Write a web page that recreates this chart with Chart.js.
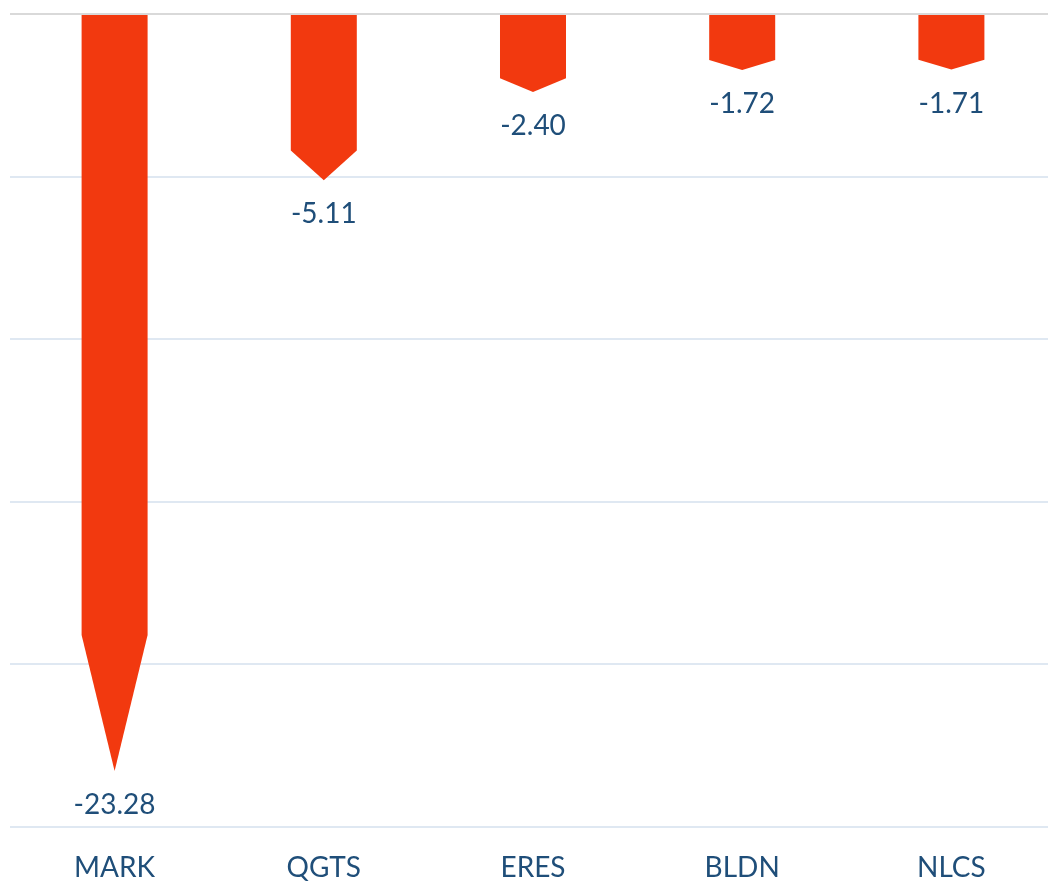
<!DOCTYPE html>
<html>
<head>
<meta charset="utf-8">
<script src="https://cdn.jsdelivr.net/npm/chart.js@4"></script>
<style>
  html, body { margin: 0; padding: 0; background: #fff; overflow: hidden; }
  .chart-wrap { position: relative; width: 1056px; height: 883px; }
</style>
</head>
<body>
<div class="chart-wrap"><canvas id="chart"></canvas></div>
<script>
const tickers = ['MARK', 'QGTS', 'ERES', 'BLDN', 'NLCS'];
const changes = [-23.28, -5.11, -2.40, -1.72, -1.71];

const barColor = '#f2390f';
const textColor = '#1f4e79';
const fontFamily = 'Lato, "Open Sans", sans-serif';

// draws each bar as a downward arrow, tip sitting on the value
const arrowBars = {
  id: 'arrowBars',
  beforeDatasetDraw(chart, args) {
    const meta = args.meta;
    const ctx = chart.ctx;
    ctx.save();
    ctx.fillStyle = barColor;
    meta.data.forEach((bar, i) => {
      const half = bar.width / 2;
      const top = bar.base;
      const tip = bar.y;
      const neck = top + (tip - top) * 0.82;
      ctx.beginPath();
      ctx.moveTo(bar.x - half, top);
      ctx.lineTo(bar.x + half, top);
      ctx.lineTo(bar.x + half, neck);
      ctx.lineTo(bar.x, tip);
      ctx.lineTo(bar.x - half, neck);
      ctx.closePath();
      ctx.fill();

      ctx.fillStyle = textColor;
      ctx.font = '28px ' + fontFamily;
      ctx.textAlign = 'center';
      ctx.textBaseline = 'middle';
      ctx.fillText(changes[i].toFixed(2), bar.x, tip + 34);
      ctx.fillStyle = barColor;
    });
    ctx.restore();
    return false;
  }
};

new Chart(document.getElementById('chart'), {
  type: 'bar',
  data: {
    labels: tickers,
    datasets: [{
      data: changes,
      backgroundColor: barColor,
      categoryPercentage: 1,
      barPercentage: 0.3155
    }]
  },
  options: {
    responsive: true,
    maintainAspectRatio: false,
    animation: false,
    layout: { padding: { left: 10, top: 14, right: 0, bottom: 0 } },
    plugins: { legend: { display: false }, tooltip: { enabled: false } },
    scales: {
      x: {
        grid: { display: false, drawTicks: false },
        border: { display: false },
        ticks: { color: textColor, font: { family: fontFamily, size: 28 }, padding: 24 },
        afterFit(scale) { scale.height = 56; }
      },
      y: {
        min: -25,
        max: 0,
        ticks: { display: false, stepSize: 5 },
        border: { display: false },
        grid: {
          drawTicks: false,
          lineWidth: 2,
          color: (c) => c.tick && c.tick.value === 0 ? '#d9d9d9' : '#dfe8f2'
        },
        afterFit(scale) { scale.width = 0; }
      }
    }
  },
  plugins: [arrowBars]
});
</script>
</body>
</html>
